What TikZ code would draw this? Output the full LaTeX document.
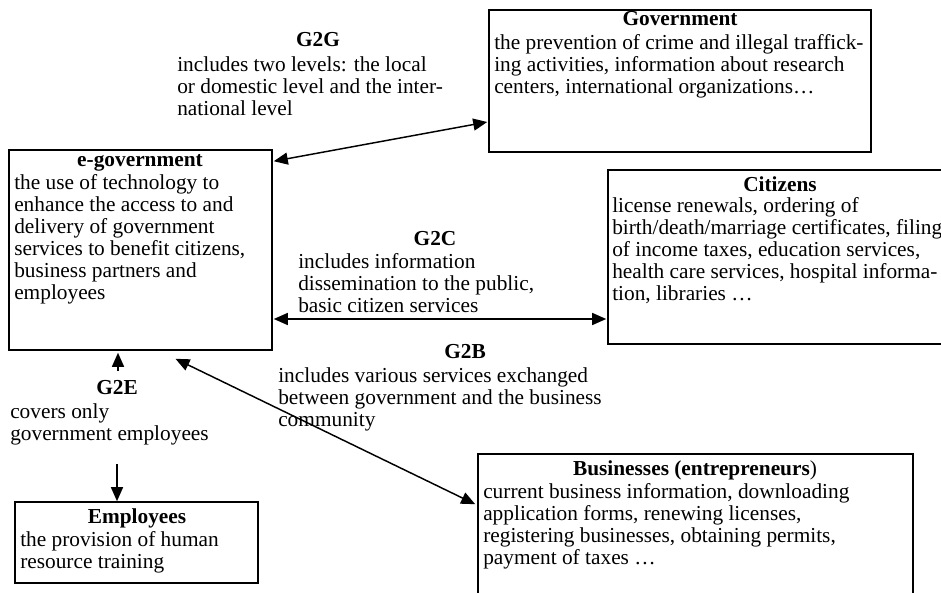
\documentclass[tikz,border=0pt]{standalone}
\usepackage{fontspec}
\setmainfont{Liberation Serif}
\usetikzlibrary{arrows.meta,calc,fit}
\begin{document}
\begin{tikzpicture}[x=0.75pt,y=-0.75pt,
  box/.style={draw,line width=1.2pt,inner sep=0pt},
  ttl/.style={font=\fontsize{16}{16.5}\selectfont\bfseries,inner sep=0pt,anchor=base},
  body/.style={font=\fontsize{16}{16.5}\selectfont,inner sep=0pt,anchor=north west,align=left},
  arr/.style={line width=1.1pt,-{Triangle[length=10.5pt,width=9pt]}},
  darr/.style={line width=1.1pt,{Triangle[length=10.5pt,width=9pt]}-{Triangle[length=10.5pt,width=9pt]}}]
\useasboundingbox (0,0) rectangle (941,592);
% boxes
\node[box,fit={(489,10) (871,152)}] (gov) {};
\node[box,fit={(9,150) (272,350)}] (egov) {};
\node[box,fit={(608,170) (952,344)}] (cit) {};
\node[box,fit={(478,454) (913,600)}] (biz) {};
\node[box,fit={(15,502) (258,583)}] (emp) {};
% texts
\node[ttl] (govt) at (680,26) {Government};
\node[body] (govb) at (494,34) {the prevention of crime and illegal traffick-\\ing activities, information about research\\centers, international organizations…};
\node[ttl] (egovt) at (140,166) {e-government};
\node[body] (egovb) at (14,174) {the use of technology to\\enhance the access to and\\delivery of government\\services to benefit citizens,\\business partners and\\employees};
\node[ttl] (citt) at (780,191) {Citizens};
\node[body] (citb) at (612,197) {license renewals, ordering of\\birth/death/marriage certificates, filing\\of income taxes, education services,\\health care services, hospital informa-\\tion, libraries …};
\node[ttl] (bizt) at (695,475) {Businesses (entrepreneurs\mdseries)};
\node[body] (bizb) at (483,483) {current business information, downloading\\application forms, renewing licenses,\\registering businesses, obtaining permits,\\payment of taxes …};
\node[ttl] (empt) at (137,523) {Employees};
\node[body] (empb) at (20,531) {the provision of human\\resource training};
\node[ttl] (g2gt) at (318,47) {G2G};
\node[body] (g2gb) at (177,56) {includes two levels: the local\\or domestic level and the inter-\\national level};
\node[ttl] (g2ct) at (435,245) {G2C};
\node[body] (g2cb) at (298,253) {includes information\\dissemination to the public,\\basic citizen services};
\node[ttl] (g2bt) at (465,358) {G2B};
\node[body] (g2bb) at (278,367) {includes various services exchanged\\between government and the business\\community};
\node[ttl] (g2et) at (117,394) {G2E};
\node[body] (g2eb) at (10,403) {covers only\\government employees};
% connectors
\coordinate (eup) at (118,371);
\coordinate (edown) at (117,464);
\draw[darr] ($(egov.north east)+(1,12)$) -- ($(gov.west)+(-1,41)$);
\draw[darr] ($(egov.east)+(1,69)$) -- ($(cit.west)+(-1,62)$);
\draw[darr] ($(egov.south)+(35,8)$) -- ($(biz.north west)+(-2,51)$);
\draw[arr] (eup) -- ($(egov.south)+(-22.5,2)$);
\draw[arr] (edown) -- ($(emp.north)+(-19.5,0)$);
\end{tikzpicture}
\end{document}
